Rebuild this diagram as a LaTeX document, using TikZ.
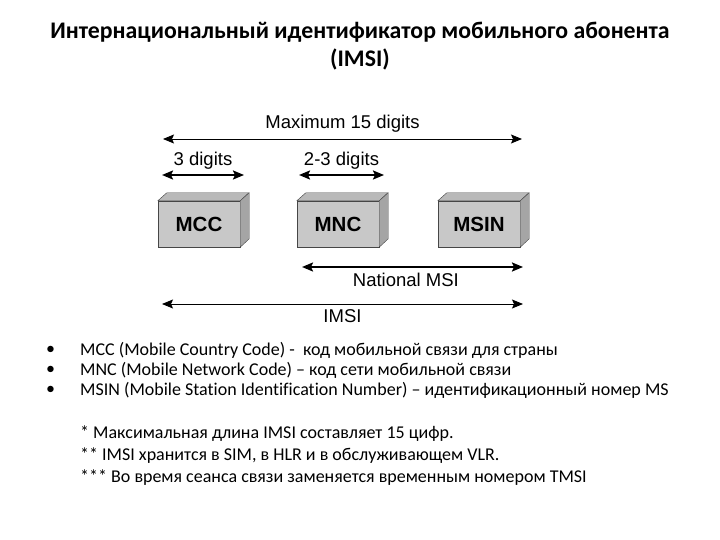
\documentclass[tikz,border=0pt]{standalone}
\usepackage{fontspec}
\setmainfont{Carlito}[Ligatures=NoCommon]
\newfontfamily\diagfont{Liberation Sans}
\usepackage{tikz}
\usetikzlibrary{arrows.meta}
\definecolor{boxfront}{RGB}{200,200,200}
\definecolor{boxtop}{RGB}{185,185,185}
\definecolor{boxside}{RGB}{165,165,165}
\definecolor{boxline}{RGB}{70,70,70}

\begin{document}
\begin{tikzpicture}[x=1pt, y=-1pt,
  field/.style={draw=boxline, fill=boxfront, minimum width=82pt, minimum height=46pt,
                font=\diagfont\fontsize{20.5}{22}\selectfont\bfseries},
  face/.style={draw=boxline, fill=boxtop},
  sideface/.style={draw=boxline, fill=boxside},
  thinarrow/.style={{Stealth[length=11pt,width=9pt,inset=2pt]}-{Stealth[length=11pt,width=9pt,inset=2pt]}, line width=0.9pt},
  thickarrow/.style={{Stealth[length=11pt,width=9pt,inset=2pt]}-{Stealth[length=11pt,width=9pt,inset=2pt]}, line width=2pt},
  label/.style={font=\diagfont\fontsize{18.5}{20}\selectfont, inner sep=1pt},
  bullet/.style={anchor=west, font=\fontsize{18}{20}\selectfont, inner sep=0pt},
  note/.style={anchor=west, font=\fontsize{18}{20}\selectfont, inner sep=0pt}
]
\useasboundingbox[fill=white] (0,0) rectangle (720,540);

% title
\node[font=\fontsize{23.8}{28}\selectfont\bfseries, align=center] (title) at (360,46)
  {Интернациональный идентификатор мобильного абонента\\(IMSI)};

% arrows above the fields
\coordinate (maxL) at (163,139);
\coordinate (maxR) at (522,139);
\draw[thinarrow] (maxL) -- (maxR) node[label, midway, above=5pt] (maxlbl) {Maximum 15 digits};
\coordinate (mccL) at (162,175);
\coordinate (mccR) at (244,175);
\draw[thickarrow] (mccL) -- (mccR) node[label, midway, above=4pt] (mcclbl) {3 digits};
\coordinate (mncL) at (299,175);
\coordinate (mncR) at (384,175);
\draw[thickarrow] (mncL) -- (mncR) node[label, midway, above=4pt] (mnclbl) {2-3 digits};

% fields
\node[field] (mcc)  at (199,224) {MCC};
\node[field] (mnc)  at (338,224) {MNC};
\node[field] (msin) at (479,224) {MSIN};
\foreach \f in {mcc,mnc,msin} {
  \draw[face] (\f.north west) -- ++(9,-8) -- ++(82,0) -- (\f.north east) -- cycle;
  \draw[sideface] (\f.north east) -- ++(9,-8) -- ++(0,46) -- (\f.south east) -- cycle;
}

% arrows below the fields
\coordinate (natL) at (302,267);
\coordinate (natR) at (523,267);
\draw[thickarrow] (natL) -- (natR) node[label, pos=0.47, below=4pt] (natlbl) {National MSI};
\coordinate (imsiL) at (162,304);
\coordinate (imsiR) at (523,304);
\draw[thinarrow] (imsiL) -- (imsiR) node[label, pos=0.5, below=4pt] (imsilbl) {IMSI};

% explanation
\node[bullet] (b1) at (46,350) {\textbullet};
\node[bullet] (b2) at (46,370) {\textbullet};
\node[bullet] (b3) at (46,390) {\textbullet};
\node[bullet] (t1) at (80,350) {MCC (Mobile Country Code) -\ \ код мобильной связи для страны};
\node[bullet] (t2) at (80,370) {MNC (Mobile Network Code) – код сети мобильной связи};
\node[bullet] (t3) at (80,390) {MSIN (Mobile Station Identification Number) – идентификационный номер MS};

\node[note] (n1) at (80,434) {* Максимальная длина IMSI составляет 15 цифр.};
\node[note] (n2) at (80,456) {** IMSI хранится в SIM, в HLR и в обслуживающем VLR.};
\node[note] (n3) at (80,478) {*** Во время сеанса связи заменяется временным номером TMSI};
\end{tikzpicture}
\end{document}
